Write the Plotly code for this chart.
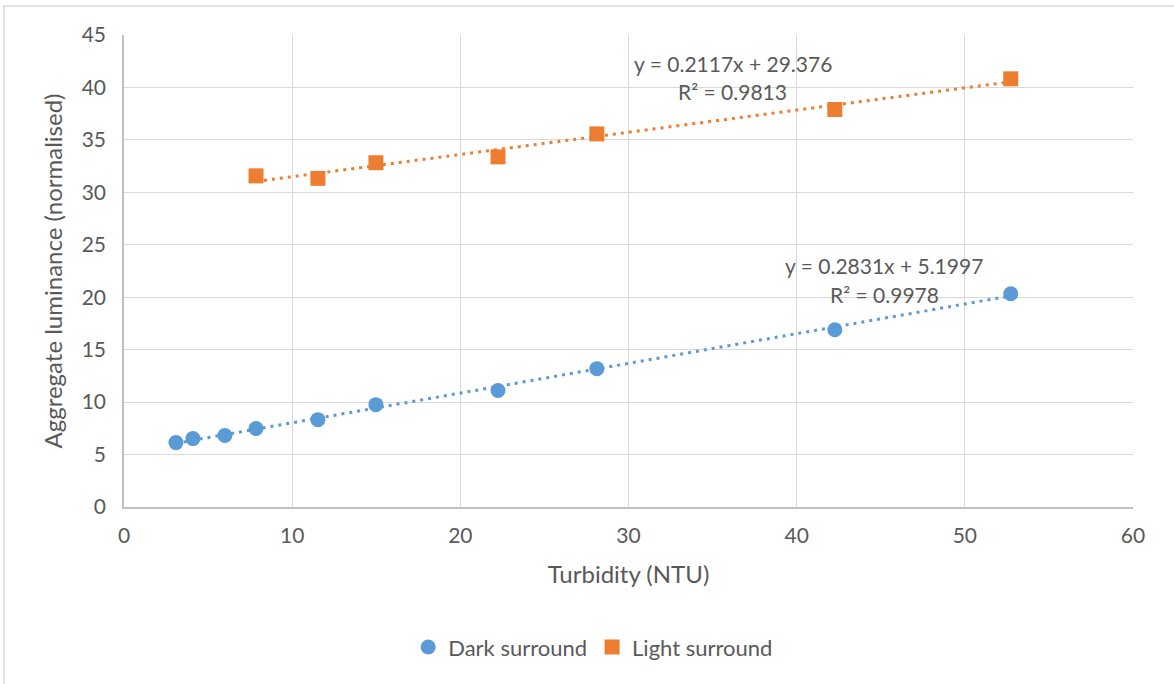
import plotly.graph_objects as go

# ---- data ----
dark_x = [3.09, 4.10, 6.00, 7.85, 11.53, 14.98, 22.24, 28.12, 42.27, 52.73]
dark_y = [6.14, 6.52, 6.81, 7.48, 8.33, 9.76, 11.10, 13.19, 16.90, 20.33]
light_x = [7.85, 11.53, 14.98, 22.24, 28.12, 42.27, 52.73]
light_y = [31.57, 31.33, 32.82, 33.38, 35.57, 37.90, 40.82]
dark_fit = (0.2831, 5.1997, 0.9978)
light_fit = (0.2117, 29.376, 0.9813)

DARK = "#5B9BD5"
LIGHT = "#ED7D31"
FONT = "Lato"
TXT = "#595959"

fig = go.Figure()
fig.add_trace(go.Scatter(x=dark_x, y=dark_y, mode="markers", name="Dark surround",
                         marker=dict(symbol="circle", size=15, color=DARK)))
fig.add_trace(go.Scatter(x=light_x, y=light_y, mode="markers", name="Light surround",
                         marker=dict(symbol="square", size=15, color=LIGHT)))

for xs, (m, b, r2), col in [(dark_x, dark_fit, DARK), (light_x, light_fit, LIGHT)]:
    x0, x1 = min(xs), max(xs)
    fig.add_trace(go.Scatter(x=[x0, x1], y=[m * x0 + b, m * x1 + b], mode="lines",
                             showlegend=False, hoverinfo="skip",
                             line=dict(color=col, width=3, dash="3px,5px")))

# equation labels
ann = [
    (36.2, 42.33, "y = 0.2117x + 29.376"),
    (36.2, 39.57, "R² = 0.9813"),
    (45.2, 23.0, "y = 0.2831x + 5.1997"),
    (45.2, 20.24, "R² = 0.9978"),
]
for ax_, ay_, t in ann:
    fig.add_annotation(x=ax_, y=ay_, text=t, showarrow=False, xref="x", yref="y",
                       font=dict(family=FONT, size=21, color=TXT))

# outer chart border
fig.add_shape(type="rect", xref="paper", yref="paper",
              x0=(4 - 124) / 1009, x1=(1185 - 124) / 1009,
              y0=(507 - 690) / 472, y1=(507 - 6) / 472,
              line=dict(color="#D9D9D9", width=1.5), layer="below")

fig.update_layout(
    width=1174, height=684,
    margin=dict(l=124, r=41, t=35, b=177),
    paper_bgcolor="white", plot_bgcolor="white",
    font=dict(family=FONT, size=21, color=TXT),
    showlegend=True,
    legend=dict(orientation="h", x=0.465, xanchor="center", y=-0.297, yanchor="middle",
                font=dict(family=FONT, size=22, color=TXT), itemclick=False),
    xaxis=dict(range=[0, 60], tickvals=[0, 10, 20, 30, 40, 50, 60],
               showgrid=True, gridcolor="#D9D9D9", gridwidth=1,
               showline=True, linecolor="#BFBFBF", linewidth=1.5, mirror=False,
               zeroline=False, ticks="", ticklabelstandoff=9,
               tickfont=dict(family=FONT, size=21, color=TXT),
               title=dict(text="Turbidity (NTU)", standoff=20,
                          font=dict(family=FONT, size=24, color=TXT))),
    yaxis=dict(range=[0, 45], tickvals=[0, 5, 10, 15, 20, 25, 30, 35, 40, 45],
               showgrid=True, gridcolor="#D9D9D9", gridwidth=1,
               showline=True, linecolor="#BFBFBF", linewidth=1.5,
               zeroline=False, ticks="", ticklabelstandoff=12,
               tickfont=dict(family=FONT, size=21, color=TXT),
               title=dict(text="Aggregate luminance (normalised)", standoff=12,
                          font=dict(family=FONT, size=24, color=TXT))),
)

fig.write_html("out.html")
